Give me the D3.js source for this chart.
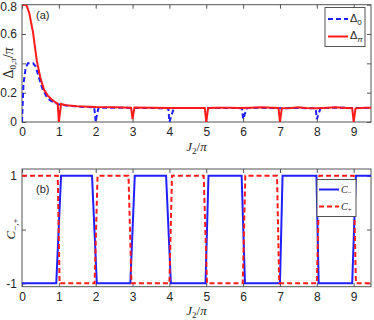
<!DOCTYPE html>
<html>
<head>
<meta charset="utf-8" />
<script src="https://d3js.org/d3.v7.min.js"></script>
<style>
  body { margin: 0; background: #fff; }
  svg { display: block; }
  .tick text { font-family: "Liberation Sans", Arial, sans-serif; font-size: 12px; fill: #262626; }
  .tick line { stroke: #555; }
  .serif { font-family: "Liberation Serif", "Times New Roman", serif; }
</style>
</head>
<body>
<div id="chart"></div>
<script>
// ---- data ----
var xTicks = [0, 1, 2, 3, 4, 5, 6, 7, 8, 9];
var gapTicks = [0, 0.2, 0.4, 0.6, 0.8];
var gapTickLabels = ["0", "0.2", "", "0.6", "0.8"];
var chernTicks = [-1, 0, 1];
var chernTickLabels = ["-1", "", "1"];

// Delta_0 (blue dashed)
var delta0 = [[0,0],[0.04,0.26],[0.1,0.37],[0.16,0.4],[0.3,0.4],[0.37,0.38],[0.45,0.31],[0.55,0.23],[0.65,0.18],
  [0.75,0.15],[0.85,0.135],[1,0.12],[1.3,0.11],[1.6,0.104],[1.96,0.1],[2.0,0.0],[2.04,0.06],[2.08,0.098],
  [2.5,0.097],[3,0.096],[3.5,0.095],[3.97,0.094],[4.0,0.0],[4.12,0.095],[4.5,0.096],[5,0.095],[5.5,0.096],
  [5.97,0.094],[6.0,0.02],[6.1,0.095],[6.5,0.097],[7,0.094],[7.5,0.096],[7.97,0.093],[8.0,0.02],[8.1,0.094],
  [8.5,0.098],[9,0.095],[9.5,0.096]];
// Delta_pi (red solid)
var deltaPi = [[0,0.8],[0.12,0.8],[0.2,0.74],[0.3,0.61],[0.4,0.42],[0.5,0.3],[0.6,0.22],[0.7,0.18],[0.8,0.155],
  [0.9,0.135],[0.97,0.125],[1.0,0.0],[1.06,0.123],[1.2,0.115],[1.5,0.108],[2.0,0.102],[2.5,0.1],[2.96,0.098],
  [3.0,0.02],[3.05,0.098],[3.5,0.097],[4,0.096],[4.5,0.096],[4.96,0.095],[5.0,0.0],[5.05,0.095],[5.3,0.097],
  [5.6,0.098],[5.9,0.095],[6.2,0.097],[6.5,0.1],[6.96,0.096],[7.0,0.0],[7.05,0.094],[7.3,0.096],[7.5,0.1],
  [7.7,0.095],[8,0.094],[8.3,0.098],[8.5,0.1],[8.7,0.097],[8.96,0.094],[9.0,0.0],[9.05,0.093],[9.3,0.097],[9.5,0.097]];

// C_- (blue solid)
var cMinus = [[0,-1],[0.93,-1],[1.06,1],[1.9,1],[2.03,-1],[2.94,-1],[3.06,1],[3.91,1],[4.04,-1],[4.98,-1],
  [5.06,1],[5.96,1],[6.05,-1],[7.0,-1],[7.07,1],[7.99,1],[8.05,-1],[8.96,-1],[9.06,1],[9.5,1]];
// C_+ (red dashed)
var cPlus = [[0,1],[0.97,1],[1.02,-1],[1.97,-1],[2.05,1],[2.89,1],[2.97,-1],[4.0,-1],[4.07,1],[4.93,1],
  [5.02,-1],[5.99,-1],[6.06,1],[6.92,1],[6.98,-1],[8.0,-1],[8.07,1],[9.0,1],[9.06,-1],[9.5,-1]];

var width = 374, height = 320;
var left = 22, right = 371;

var svg = d3.select("#chart").append("svg")
  .attr("width", width).attr("height", height);

var x = d3.scaleLinear().domain([0, 9.47]).range([left, right]);

function panel(top, bottom, yScale, yTicks, yLabels, xPad, xLabY) {
  var g = svg.append("g");
  var w = right - left, h = bottom - top;

  // clip for data lines
  var id = "clip" + Math.round(top);
  svg.append("clipPath").attr("id", id).append("rect")
    .attr("x", left).attr("y", top).attr("width", w).attr("height", h);

  g.append("g").attr("transform", "translate(0," + bottom + ")")
    .call(d3.axisBottom(x).tickValues(xTicks).tickSize(-4).tickPadding(xPad).tickFormat(d3.format("d")));
  g.append("g").attr("transform", "translate(0," + top + ")")
    .call(d3.axisTop(x).tickValues(xTicks).tickSize(-4).tickFormat(""));
  var ya = g.append("g").attr("transform", "translate(" + left + ",0)")
    .call(d3.axisLeft(yScale).tickValues(yTicks).tickSize(-4).tickPadding(5)
      .tickFormat(function (d, i) { return yLabels[i]; }));
  g.append("g").attr("transform", "translate(" + right + ",0)")
    .call(d3.axisRight(yScale).tickValues(yTicks).tickSize(-4).tickFormat(""));
  g.selectAll(".domain").remove();

  g.append("rect").attr("x", left).attr("y", top).attr("width", w).attr("height", h)
    .attr("fill", "none").attr("stroke", "#555").attr("stroke-width", 1);

  var xl = svg.append("text").attr("class", "serif")
    .attr("x", (left + right) / 2).attr("y", xLabY)
    .attr("text-anchor", "middle").attr("font-size", 13).attr("fill", "#262626");
  xl.append("tspan").attr("font-style", "italic").text("J");
  xl.append("tspan").attr("font-size", 9).attr("dy", 3).text("2");
  xl.append("tspan").attr("dy", -3).text("/");
  xl.append("tspan").attr("font-style", "italic").text("π");

  return { clip: "url(#" + id + ")", yAxis: ya };
}

// ---- panel (a) ----
var yA = d3.scaleLinear().domain([0, 0.8]).range([122, 4.7]);
var pA = panel(4.7, 122, yA, gapTicks, gapTickLabels, 5, 151);
var clipA = pA.clip;
// keep the top label inside the window
pA.yAxis.selectAll(".tick text").filter(function (d) { return d === 0.8; }).attr("dy", "0.45em");

var lineA = d3.line().x(function (d) { return x(d[0]); }).y(function (d) { return yA(d[1]); });
svg.append("path").datum(delta0).attr("d", lineA).attr("clip-path", clipA)
  .attr("fill", "none").attr("stroke", "#1f1fff").attr("stroke-width", 2).attr("stroke-dasharray", "5,3");
svg.append("path").datum(deltaPi).attr("d", lineA).attr("clip-path", clipA)
  .attr("fill", "none").attr("stroke", "#ff1a1a").attr("stroke-width", 2);

svg.append("text").attr("x", 36).attr("y", 19).attr("font-family", "Liberation Sans, Arial, sans-serif")
  .attr("font-size", 11).attr("fill", "#262626").text("(a)");

var yla = svg.append("text").attr("class", "serif")
  .attr("transform", "translate(13,63) rotate(-90)").attr("text-anchor", "middle")
  .attr("font-size", 14).attr("fill", "#262626");
yla.append("tspan").text("Δ");
yla.append("tspan").attr("font-size", 9).attr("dy", 3).text("0,");
yla.append("tspan").attr("font-size", 9).attr("font-style", "italic").text("π");
yla.append("tspan").attr("dy", -3).text("/");
yla.append("tspan").attr("font-style", "italic").text("π");

// legend (a)
var lgA = svg.append("g");
lgA.append("rect").attr("x", 325).attr("y", 7.5).attr("width", 40).attr("height", 39)
  .attr("fill", "#fff").attr("stroke", "#555");
lgA.append("line").attr("x1", 328).attr("x2", 348).attr("y1", 19).attr("y2", 19)
  .attr("stroke", "#1f1fff").attr("stroke-width", 2).attr("stroke-dasharray", "5,3");
lgA.append("line").attr("x1", 328).attr("x2", 348).attr("y1", 36.5).attr("y2", 36.5)
  .attr("stroke", "#ff1a1a").attr("stroke-width", 2);
var t0 = lgA.append("text").attr("x", 350).attr("y", 22).attr("font-family", "Liberation Sans, Arial, sans-serif")
  .attr("font-size", 11).attr("fill", "#262626");
t0.append("tspan").text("Δ");
t0.append("tspan").attr("font-size", 8).attr("dy", 3).text("0");
var tp = lgA.append("text").attr("x", 350).attr("y", 39).attr("font-family", "Liberation Sans, Arial, sans-serif")
  .attr("font-size", 11).attr("fill", "#262626");
tp.append("tspan").text("Δ");
tp.append("tspan").attr("font-size", 8).attr("dy", 3).attr("font-style", "italic").text("π");

// ---- panel (b) ----
var yB = d3.scaleLinear().domain([-1.063, 1.125]).range([286.7, 169]);
var clipB = panel(169, 286.7, yB, chernTicks, chernTickLabels, 6, 315).clip;

var lineB = d3.line().x(function (d) { return x(d[0]); }).y(function (d) { return yB(d[1]); });
svg.append("path").datum(cMinus).attr("d", lineB).attr("clip-path", clipB)
  .attr("fill", "none").attr("stroke", "#1f1fff").attr("stroke-width", 2);
svg.append("path").datum(cPlus).attr("d", lineB).attr("clip-path", clipB)
  .attr("fill", "none").attr("stroke", "#ff1a1a").attr("stroke-width", 2).attr("stroke-dasharray", "5,3");

svg.append("text").attr("x", 36).attr("y", 193).attr("font-family", "Liberation Sans, Arial, sans-serif")
  .attr("font-size", 11).attr("fill", "#262626").text("(b)");

var ylb = svg.append("text").attr("class", "serif")
  .attr("transform", "translate(15,229) rotate(-90)").attr("text-anchor", "middle")
  .attr("font-size", 13).attr("fill", "#262626");
ylb.append("tspan").attr("font-style", "italic").text("C");
ylb.append("tspan").attr("font-size", 9).attr("dy", 3).text("−,+");

// legend (b)
var lgB = svg.append("g");
lgB.append("rect").attr("x", 317).attr("y", 179.5).attr("width", 39).attr("height", 37)
  .attr("fill", "#fff").attr("stroke", "#555");
lgB.append("line").attr("x1", 319).attr("x2", 339).attr("y1", 189.5).attr("y2", 189.5)
  .attr("stroke", "#1f1fff").attr("stroke-width", 2);
lgB.append("line").attr("x1", 319).attr("x2", 339).attr("y1", 206.5).attr("y2", 206.5)
  .attr("stroke", "#ff1a1a").attr("stroke-width", 2).attr("stroke-dasharray", "5,3");
var cm = lgB.append("text").attr("class", "serif").attr("x", 341).attr("y", 193)
  .attr("font-size", 10).attr("fill", "#262626");
cm.append("tspan").attr("font-style", "italic").text("C");
cm.append("tspan").attr("font-size", 7).attr("dy", 2).text("−");
var cp = lgB.append("text").attr("class", "serif").attr("x", 341).attr("y", 210)
  .attr("font-size", 10).attr("fill", "#262626");
cp.append("tspan").attr("font-style", "italic").text("C");
cp.append("tspan").attr("font-size", 7).attr("dy", 2).text("+");
</script>
</body>
</html>
